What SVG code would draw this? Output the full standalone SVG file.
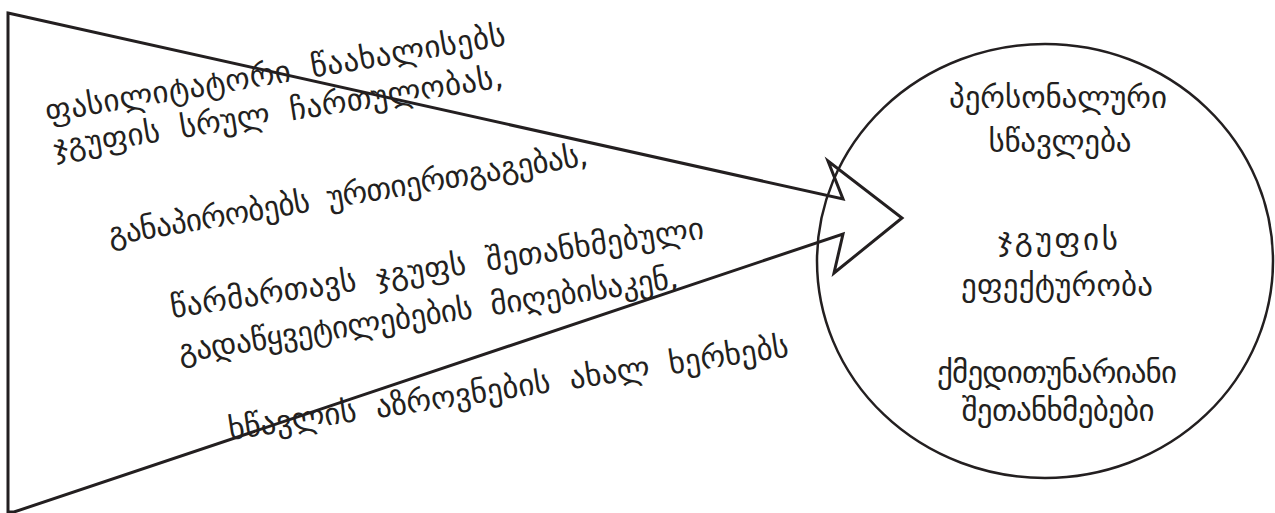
<svg xmlns="http://www.w3.org/2000/svg" width="1275" height="513" viewBox="0 0 1275 513">
<style>
.t{font-family:"DejaVu Sans","Noto Sans",sans-serif;font-size:31px;fill:#231f20}
.r{font-size:31px;text-anchor:middle}
.ln{fill:none;stroke:#231f20;stroke-width:3;stroke-linejoin:miter}
</style>
<rect width="1275" height="513" fill="#fff"/>
<g id="connectors">
<polygon class="ln" points="8,13 843,199 828,161 902,218 834,273 843,234 14,512 8,512"/>
</g>
<g id="node-left">
<text class="t" xml:space="preserve" textLength="466" lengthAdjust="spacing" transform="translate(47,122) rotate(-9.5)">ფასილიტატორი  წაახალისებს</text>
<text class="t" xml:space="preserve" textLength="455" lengthAdjust="spacing" transform="translate(55,158) rotate(-9)">ჯგუფის  სრულ  ჩართულობას,</text>
<text class="t" xml:space="preserve" textLength="486" lengthAdjust="spacing" transform="translate(110,245) rotate(-9.5)">განაპირობებს  ურთიერთგაგებას,</text>
<text class="t" xml:space="preserve" textLength="539" lengthAdjust="spacing" transform="translate(172,318) rotate(-8.5)">წარმართავს  ჯგუფს  შეთანხმებული</text>
<text class="t" xml:space="preserve" textLength="505" lengthAdjust="spacing" transform="translate(180,362) rotate(-8.5)">გადაწყვეტილებების  მიღებისაკენ,</text>
<text class="t" xml:space="preserve" textLength="566" lengthAdjust="spacing" transform="translate(230,440) rotate(-8.5)">ხწავლის  აზროვნების  ახალ  ხერხებს</text>
</g>
<g id="node-circle">
<ellipse cx="1045" cy="261" rx="228" ry="217" fill="none" stroke="#231f20" stroke-width="2.5"/>
<text class="t r" x="1058" y="108" textLength="218" lengthAdjust="spacing">პერსონალური</text>
<text class="t r" x="1060" y="152" textLength="143" lengthAdjust="spacing">სწავლება</text>
<text class="t r" x="1058" y="250" textLength="120" lengthAdjust="spacing">ჯგუფის</text>
<text class="t r" x="1057" y="296" textLength="192" lengthAdjust="spacing">ეფექტურობა</text>
<text class="t r" x="1057" y="383" textLength="240" lengthAdjust="spacing">ქმედითუნარიანი</text>
<text class="t r" x="1058" y="421" textLength="193" lengthAdjust="spacing">შეთანხმებები</text>
</g>
</svg>
